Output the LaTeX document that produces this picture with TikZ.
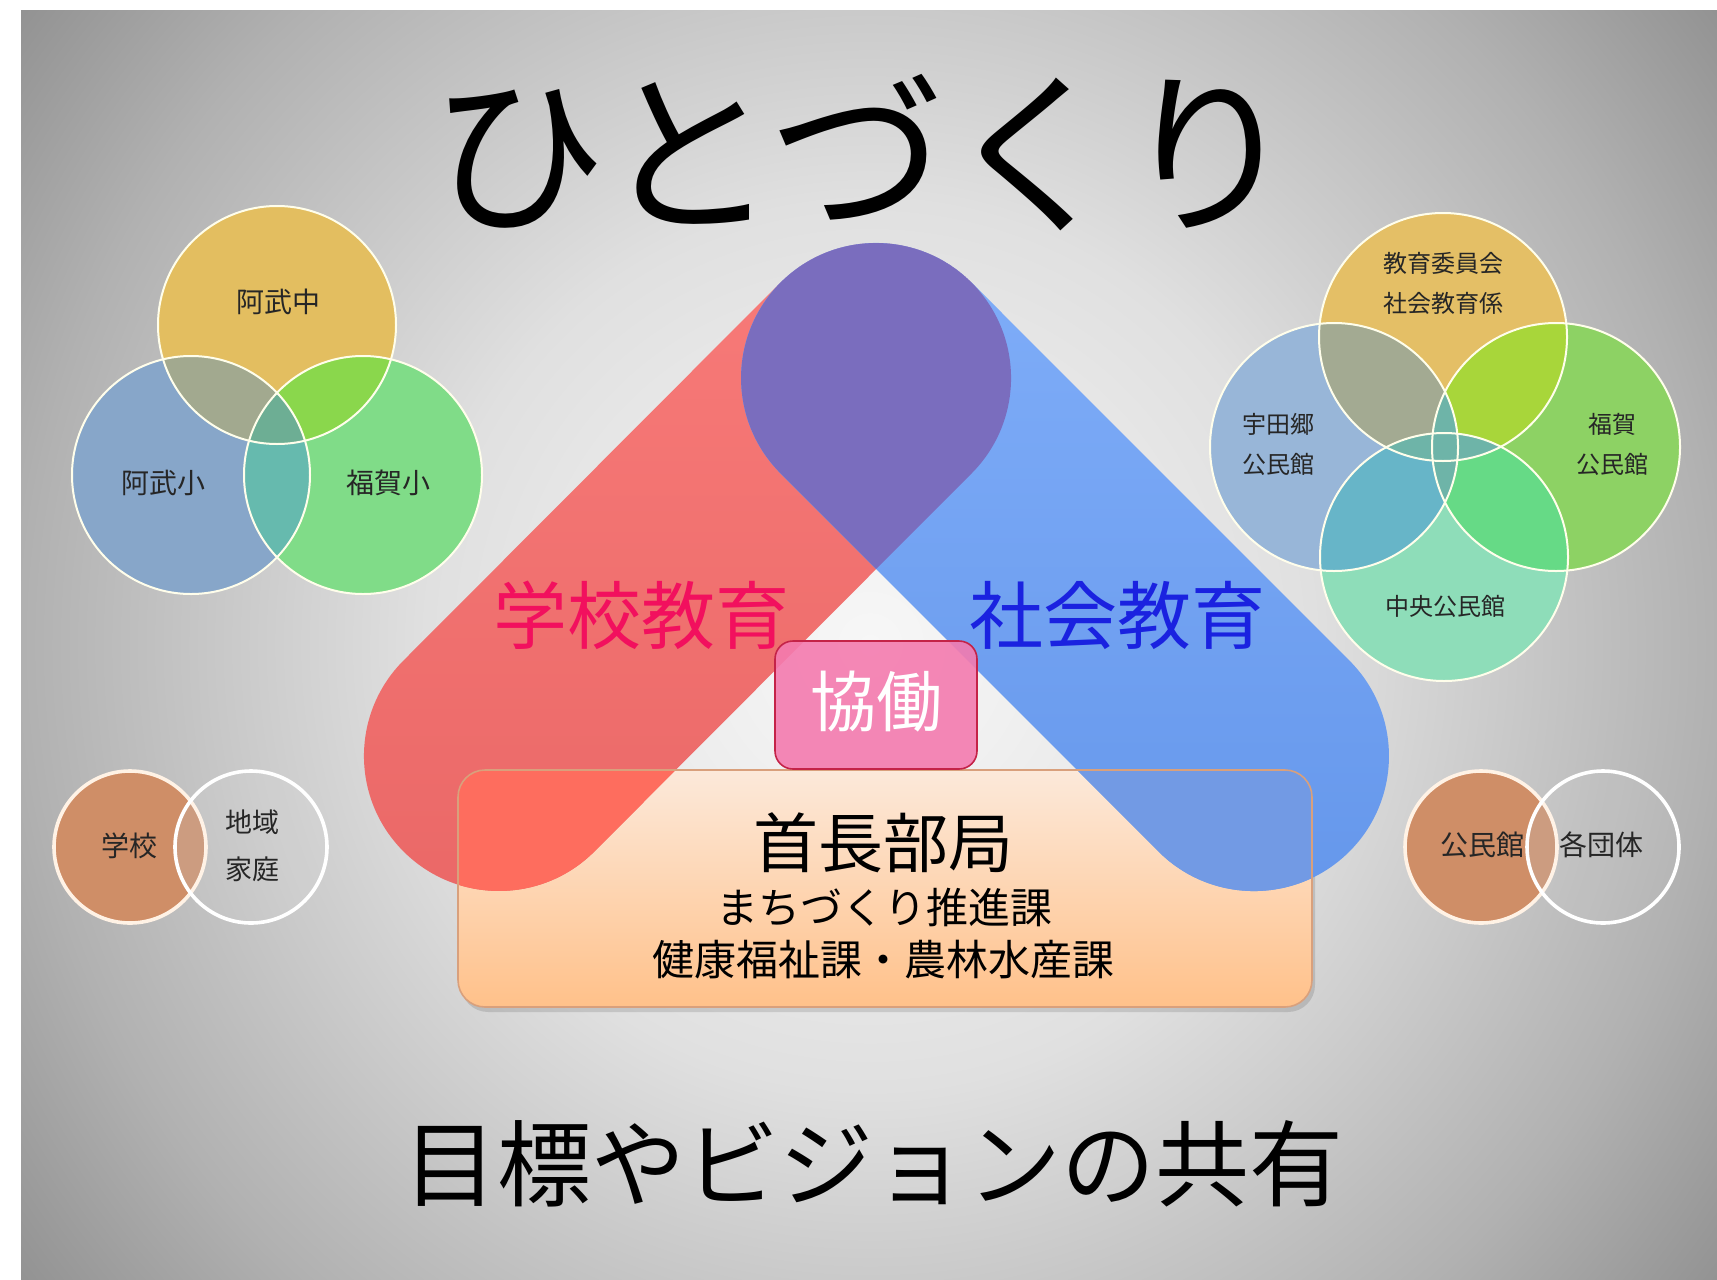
\documentclass[tikz,border=0pt]{standalone}
\usepackage{fontspec}
\setmainfont{Noto Sans CJK JP}
\definecolor{bg0}{HTML}{F7F7F7}
\definecolor{bg1}{HTML}{F0F0F0}
\definecolor{bg2}{HTML}{E0E0E0}
\definecolor{bg3}{HTML}{CACACA}
\definecolor{bg4}{HTML}{B1B1B1}
\definecolor{bg5}{HTML}{929292}
\pgfdeclareradialshading{slidebg}{\pgfpoint{0pt}{0pt}}{color(0pt)=(bg0); color(75pt)=(bg1); color(222pt)=(bg2); color(317pt)=(bg3); color(424pt)=(bg4); color(532pt)=(bg5)}
% left venn
\definecolor{vA}{HTML}{E3BE60}
\definecolor{vB}{HTML}{87A6C9}
\definecolor{vC}{HTML}{80DC88}
\definecolor{vAB}{HTML}{A2A98F}
\definecolor{vAC}{HTML}{8AD74C}
\definecolor{vBC}{HTML}{66BAAE}
\definecolor{vABC}{HTML}{6DAE94}
% right venn
\definecolor{wT}{HTML}{E4BF66}
\definecolor{wL}{HTML}{98B6D8}
\definecolor{wR}{HTML}{8DD264}
\definecolor{wB}{HTML}{8EDDB9}
\definecolor{wTL}{HTML}{A3AA92}
\definecolor{wTR}{HTML}{A8D63A}
\definecolor{wLB}{HTML}{67B5C8}
\definecolor{wRB}{HTML}{66DA86}
\definecolor{wMid}{HTML}{6EB4A8}
% pairs
\definecolor{pOr}{HTML}{CF8E67}
\definecolor{pOrX}{HTML}{C99679}
% bands
\definecolor{redTop}{HTML}{F87B79}
\definecolor{redBot}{HTML}{EA6867}
\definecolor{bluTop}{HTML}{80AEF9}
\definecolor{bluBot}{HTML}{6597EB}
\definecolor{purp}{HTML}{7A6DBE}
\definecolor{redIn}{HTML}{FE6D5E}
\definecolor{bluIn}{HTML}{729AE4}
\definecolor{boxTop}{HTML}{FCE9DA}
\definecolor{boxBot}{HTML}{FFC18A}
\definecolor{boxLine}{HTML}{D9A07C}
\definecolor{pinkFill}{HTML}{F47BAF}
\definecolor{pinkLine}{HTML}{C42348}
\definecolor{schoolTxt}{HTML}{F2105E}
\definecolor{socialTxt}{HTML}{1A22E0}
\definecolor{lblTxt}{HTML}{262626}
\def\redpath{(780.5,282.5) -- (403.5,660.5) arc[start angle=225, end angle=45, radius=135] -- (971.5,473.5) arc[start angle=45, end angle=-135, radius=135] -- cycle}
\def\blupath{(780.5,473.5) -- (1158.5,851.5) arc[start angle=135, end angle=-45, radius=135] -- (971.5,282.5) arc[start angle=-45, end angle=-225, radius=135] -- cycle}
\def\boxpath{(458,770) rectangle (1312,1007)}
\tikzset{
  vline/.style={draw=white!92!yellow, line width=1pt},
  pline/.style={draw=white, line width=1.8pt},
  small/.style={text=lblTxt, inner sep=0pt, align=center, font=\fontsize{14}{23}\selectfont},
  smallr/.style={text=lblTxt, inner sep=0pt, align=center, font=\fontsize{12}{20}\selectfont},
}
\begin{document}
\begin{tikzpicture}[x=0.5pt,y=-0.5pt]
\useasboundingbox (0,0) rectangle (1717,1279);
\fill[white] (0,0) rectangle (1717,1279);
\begin{scope}
  \clip (21,11) rectangle (1717,1279);
  \node[inner sep=0pt, outer sep=0pt] (bgshade) at (870,645) {\pgfuseshading{slidebg}};
\end{scope}

% ---------- left venn ----------
\fill[vA] (277,325) circle (119);
\fill[vB] (191,475) circle (119);
\fill[vC] (363,475) circle (119);
\begin{scope}\clip (277,325) circle (119); \fill[vAB] (191,475) circle (119);\end{scope}
\begin{scope}\clip (277,325) circle (119); \fill[vAC] (363,475) circle (119);\end{scope}
\begin{scope}\clip (191,475) circle (119); \fill[vBC] (363,475) circle (119);\end{scope}
\begin{scope}\clip (277,325) circle (119); \clip (191,475) circle (119); \fill[vABC] (363,475) circle (119);\end{scope}
\draw[vline] (277,325) circle (119);
\draw[vline] (191,475) circle (119);
\draw[vline] (363,475) circle (119);
\node[small] (abuchu) at (278,302) {阿武中};
\node[small] (abusho) at (163,483) {阿武小};
\node[small] (fukusho) at (388,483) {福賀小};

% ---------- right venn ----------
\fill[wT] (1443,337) circle (124);
\fill[wL] (1334,447) circle (124);
\fill[wR] (1556,447) circle (124);
\fill[wB] (1444,557) circle (124);
\begin{scope}\clip (1443,337) circle (124); \fill[wTL] (1334,447) circle (124);\end{scope}
\begin{scope}\clip (1443,337) circle (124); \fill[wTR] (1556,447) circle (124);\end{scope}
\begin{scope}\clip (1334,447) circle (124); \fill[wLB] (1444,557) circle (124);\end{scope}
\begin{scope}\clip (1556,447) circle (124); \fill[wRB] (1444,557) circle (124);\end{scope}
\begin{scope}\clip (1443,337) circle (124); \fill[wMid] (1444,557) circle (124);\end{scope}
\begin{scope}\clip (1334,447) circle (124); \fill[wMid] (1556,447) circle (124);\end{scope}
\begin{scope}\clip (1443,337) circle (124); \clip (1334,447) circle (124); \fill[wMid] (1556,447) circle (124);\end{scope}
\begin{scope}\clip (1443,337) circle (124); \clip (1334,447) circle (124); \fill[wMid] (1444,557) circle (124);\end{scope}
\begin{scope}\clip (1443,337) circle (124); \clip (1556,447) circle (124); \fill[wMid] (1444,557) circle (124);\end{scope}
\begin{scope}\clip (1334,447) circle (124); \clip (1556,447) circle (124); \fill[wMid] (1444,557) circle (124);\end{scope}
\draw[vline] (1443,337) circle (124);
\draw[vline] (1334,447) circle (124);
\draw[vline] (1556,447) circle (124);
\draw[vline] (1444,557) circle (124);
\node[smallr] (kyoiku) at (1443,283) {教育委員会\\社会教育係};
\node[smallr] (udago) at (1278,444) {宇田郷\\公民館};
\node[smallr] (fukakou) at (1612,444) {福賀\\公民館};
\node[smallr] (chuo) at (1445,606) {中央公民館};

% ---------- bottom pairs ----------
\fill[pOr] (130,847) circle (76);
\begin{scope}\clip (130,847) circle (76); \fill[pOrX] (251,847) circle (76);\end{scope}
\draw[pline, draw=white!90!orange] (130,847) circle (76);
\fill[white, opacity=0.06] (251,847) circle (76);
\draw[pline] (251,847) circle (76);
\node[small] (gakko) at (129,846) {学校};
\node[small, font=\fontsize{13.5}{23.5}\selectfont] (chiiki) at (252,846) {地域\\家庭};

\fill[pOr] (1481,847) circle (76);
\begin{scope}\clip (1481,847) circle (76); \fill[pOrX] (1603,847) circle (76);\end{scope}
\draw[pline, draw=white!90!orange] (1481,847) circle (76);
\fill[white, opacity=0.06] (1603,847) circle (76);
\draw[pline] (1603,847) circle (76);
\node[small] (kominkan) at (1482,845) {公民館};
\node[small] (kakudan) at (1601,845) {各団体};

% ---------- title ----------
\node[inner sep=0pt, font=\fontsize{88}{92}\selectfont] (title) at (864,153) {ひとづくり};

% ---------- lower box (fill) ----------
\fill[black, opacity=0.12, rounded corners=13.5pt] (461,775) rectangle (1315,1012);
\shade[top color=boxTop, bottom color=boxBot, rounded corners=13.5pt] \boxpath;

% ---------- bands ----------
\shade[top color=redTop, bottom color=redBot] \redpath;
\shade[top color=bluTop, bottom color=bluBot] \blupath;
\begin{scope}
  \clip \redpath;
  \fill[purp] \blupath;
\end{scope}
\begin{scope}
  \clip[rounded corners=13.5pt] \boxpath;
  \fill[redIn] \redpath;
  \fill[bluIn] \blupath;
\end{scope}
\draw[boxLine, line width=0.8pt, rounded corners=13.5pt] \boxpath;

% ---------- collaboration box ----------
\draw[pinkLine, fill=pinkFill, fill opacity=0.9, line width=0.8pt, rounded corners=9pt] (775,641) rectangle (977,769);
\node[inner sep=0pt, text=white, font=\fontsize{33}{36}\selectfont] (kyodo) at (876,702) {協働};

% ---------- labels ----------
\node[inner sep=0pt, text=schoolTxt, font=\fontsize{37}{40}\selectfont] (gakkokyoiku) at (641,615) {学校教育};
\node[inner sep=0pt, text=socialTxt, font=\fontsize{37}{40}\selectfont] (shakaikyoiku) at (1117,615) {社会教育};

\node[inner sep=0pt, font=\fontsize{32.5}{36}\selectfont] (shucho) at (883,843) {首長部局};
\node[inner sep=0pt, font=\fontsize{21}{24}\selectfont] (machi) at (884,907) {まちづくり推進課};
\node[inner sep=0pt, font=\fontsize{21}{24}\selectfont] (kenko) at (883,960) {健康福祉課・農林水産課};

\node[inner sep=0pt, font=\fontsize{47}{50}\selectfont] (vision) at (873,1164) {目標やビジョンの共有};
\end{tikzpicture}
\end{document}
